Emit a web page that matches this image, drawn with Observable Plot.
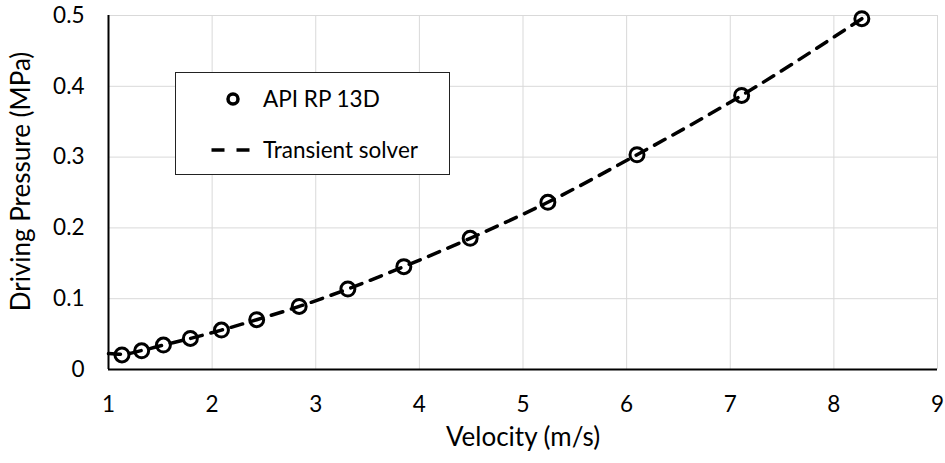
<!DOCTYPE html>
<html>
<head>
<meta charset="utf-8">
<script src="https://cdn.jsdelivr.net/npm/d3@7"></script>
<script src="https://cdn.jsdelivr.net/npm/@observablehq/plot@0.6"></script>
<style>
  html, body { margin: 0; padding: 0; background: #fff; }
  #wrap { position: relative; width: 945px; height: 463px; font-family: Lato, "Open Sans", sans-serif; }
  #wrap svg g[aria-label$="tick label"], #wrap svg g[aria-label$="tick label"] text { font-size: 22.5px !important; }
  #legend { position: absolute; left: 175px; top: 72px; width: 273px; height: 101px; border: 1.5px solid #222; background: #fff; }
  #legend .row { position: absolute; left: 87px; font-size: 22.5px; color: #000; line-height: 1; transform: translateY(-50%); white-space: nowrap; }
  #legend svg { position: absolute; left: 0; top: 0; }
</style>
</head>
<body>
<div id="wrap"></div>
<script>
// Data
const apiVelocity = [1.13, 1.32, 1.53, 1.79, 2.09, 2.43, 2.84, 3.31, 3.85, 4.49, 5.24, 6.10, 7.11, 8.27];
const apiPressure = [0.0206, 0.0264, 0.0345, 0.0439, 0.0557, 0.0703, 0.0891, 0.1137, 0.1453, 0.1853, 0.2362, 0.3033, 0.3871, 0.4955];
const solverVelocity = [1.00, 1.13, 1.32, 1.53, 1.79, 2.09, 2.43, 2.84, 3.31, 3.85, 4.49, 5.24, 6.10, 7.11, 8.27];
const solverPressure = [0.0225, 0.0215, 0.0268, 0.0345, 0.0439, 0.0557, 0.0703, 0.0891, 0.1137, 0.1453, 0.1853, 0.2362, 0.3033, 0.3871, 0.4955];
const xTicks = [1, 2, 3, 4, 5, 6, 7, 8, 9];
const yTicks = [0, 0.1, 0.2, 0.3, 0.4, 0.5];
const xTitle = "Velocity (m/s)";
const yTitle = "Driving Pressure (MPa)";
const seriesNames = ["API RP 13D", "Transient solver"];

const api = apiVelocity.map((v, i) => ({v, p: apiPressure[i]}));
const solver = solverVelocity.map((v, i) => ({v, p: solverPressure[i]}));

const chart = Plot.plot({
  width: 945,
  height: 463,
  marginLeft: 108,
  marginRight: 8,
  marginTop: 15,
  marginBottom: 94,
  style: {fontFamily: "Lato, 'Open Sans', sans-serif", fontSize: "22px", color: "#000", background: "#fff"},
  x: {domain: [1, 9], ticks: xTicks},
  y: {domain: [0, 0.5], ticks: yTicks},
  marks: [
    Plot.gridX(xTicks, {stroke: "#d9d9d9", strokeOpacity: 1, strokeWidth: 1}),
    Plot.gridY(yTicks, {stroke: "#d9d9d9", strokeOpacity: 1, strokeWidth: 1}),
    Plot.axisX(xTicks, {tickSize: 0, tickPadding: 27, label: null, fontSize: 22}),
    Plot.axisY(yTicks, {tickSize: 0, tickPadding: 24, label: null, fontSize: 22, tickFormat: d => String(+d.toFixed(1))}),
    Plot.ruleX([1], {stroke: "#000", strokeWidth: 2}),
    Plot.ruleY([0], {stroke: "#000", strokeWidth: 2}),
    Plot.line(solver, {x: "v", y: "p", stroke: "#000", strokeWidth: 3.5, strokeDasharray: "12,9", curve: "monotone-x"}),
    Plot.dot(api, {x: "v", y: "p", r: 7, stroke: "#000", strokeWidth: 3, fill: "none"}),
    Plot.text([xTitle], {frameAnchor: "bottom", dy: 76, fontSize: 26, fill: "#000"}),
    Plot.text([yTitle], {frameAnchor: "left", textAnchor: "middle", dx: -87, dy: -11, rotate: -90, fontSize: 26, fill: "#000"})
  ]
});

const wrap = document.getElementById("wrap");
wrap.appendChild(chart);

const legend = document.createElement("div");
legend.id = "legend";
legend.innerHTML = `
  <svg width="273" height="101">
    <circle cx="57" cy="26" r="5" fill="none" stroke="#000" stroke-width="3.5"></circle>
    <line x1="35.5" y1="77" x2="75" y2="77" stroke="#000" stroke-width="3.5" stroke-dasharray="13,12"></line>
  </svg>
  <div class="row" style="top:26px">${seriesNames[0]}</div>
  <div class="row" style="top:77px">${seriesNames[1]}</div>`;
wrap.appendChild(legend);
</script>
</body>
</html>
